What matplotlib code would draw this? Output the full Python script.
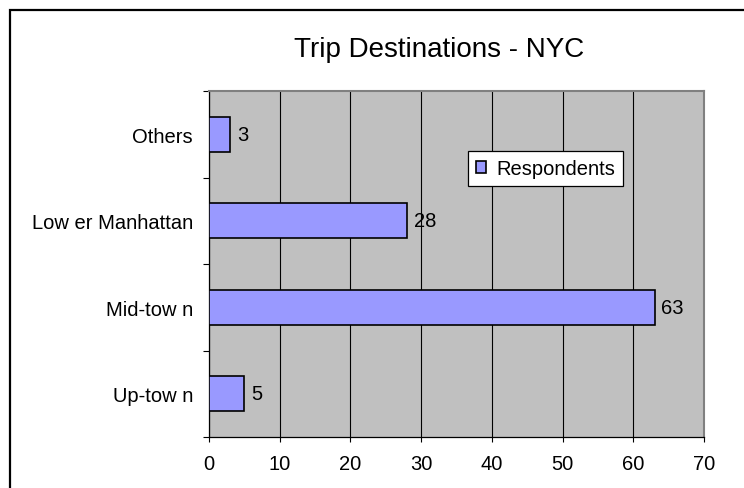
import matplotlib
matplotlib.use("Agg")
import matplotlib.pyplot as plt
from matplotlib.patches import Rectangle

plt.rcParams['font.family'] = ['Liberation Sans', 'DejaVu Sans']

# trip destinations, listed top to bottom
categories = ["Others", "Low er Manhattan", "Mid-tow n", "Up-tow n"]
respondents = [3, 28, 63, 5]
x_ticks = [0, 10, 20, 30, 40, 50, 60, 70]

fs = 14.5

fig = plt.figure(figsize=(7.44, 4.89), dpi=100)
fig.patch.set_facecolor("white")

# outer chart border (runs off the right and bottom edges)
fig.patches.append(Rectangle((10 / 744, -0.05), 1.2, 1 - 11 / 489 + 0.05,
                             transform=fig.transFigure, fill=False,
                             edgecolor="black", linewidth=1.6, zorder=0))

ax = fig.add_axes([209 / 744, 51 / 489, 495 / 744, 346 / 489])
ax.set_facecolor("#C0C0C0")

pos = list(range(len(categories)))[::-1]
ax.barh(pos, respondents, height=0.4, color="#9999FF", edgecolor="black",
        linewidth=1.2, label="Respondents", zorder=3)
for p, v in zip(pos, respondents):
    ax.annotate(str(v), (v, p), xytext=(5, 0), textcoords="offset points",
                va="center", ha="left", fontsize=fs, zorder=4)

ax.set_xlim(0, 70)
ax.set_ylim(-0.5, 3.5)
ax.set_xticks(x_ticks)
ax.set_xticklabels([str(t) for t in x_ticks], fontsize=fs)
ax.xaxis.grid(True, color="black", linewidth=0.8, zorder=1)
ax.set_axisbelow(True)

# category ticks sit between the bars, labels at the bar centres
ax.set_yticks([-0.5, 0.5, 1.5, 2.5, 3.5])
ax.set_yticklabels([])
ax.set_yticks(pos, minor=True)
ax.set_yticklabels(categories, minor=True, fontsize=fs)
ax.tick_params(axis="y", which="minor", length=0, pad=11.5)
ax.tick_params(axis="y", which="major", length=4.5, width=0.8, direction="out")
ax.tick_params(axis="x", length=3.5, width=0.8, direction="out", pad=9)

for side in ["top", "right"]:
    ax.spines[side].set_color("#808080")
    ax.spines[side].set_linewidth(1.5)
for side in ["left", "bottom"]:
    ax.spines[side].set_color("black")
    ax.spines[side].set_linewidth(0.9)

leg = ax.legend(loc="upper left", bbox_to_anchor=(259 / 495, 286 / 346),
                borderaxespad=0, fancybox=False, framealpha=1,
                edgecolor="black", fontsize=fs, handlelength=0.5,
                handleheight=0.5, handletextpad=0.5, borderpad=0.4)
leg.get_frame().set_linewidth(0.9)

fig.text(439 / 744, 1 - 57 / 489, "Trip Destinations - NYC", ha="center",
         va="baseline", fontsize=20)

fig.savefig("out.png", dpi=100)
